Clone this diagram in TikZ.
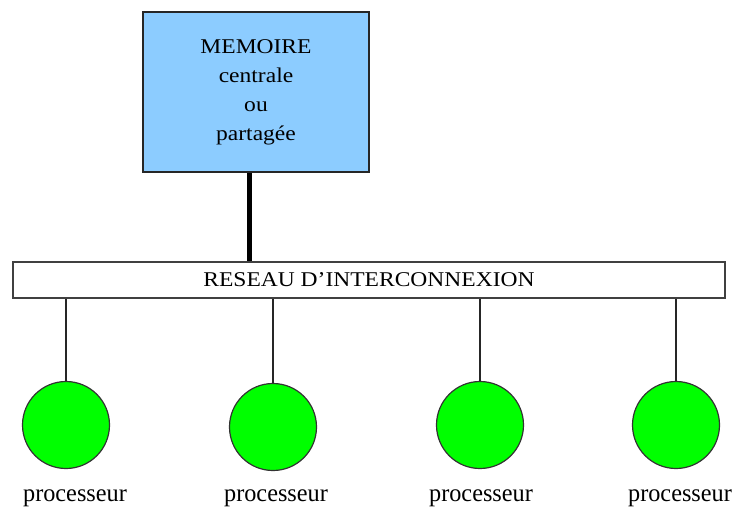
\documentclass[tikz,border=0pt]{standalone}
\usepackage{fontspec}
\setmainfont{Liberation Serif}
\newfontfamily\boxfont[FakeStretch=1.12]{Liberation Serif}
\newfontfamily\procfont[FakeStretch=0.97]{Liberation Serif}
\definecolor{memblue}{RGB}{140,204,255}
\definecolor{procgreen}{RGB}{0,255,0}
\tikzset{
  membox/.style={draw=black!85, line width=1.6pt, fill=memblue,
    minimum width=226pt, minimum height=160pt, inner sep=0pt, align=center,
    font=\boxfont\fontsize{21}{29}\selectfont},
  netbar/.style={draw=black!75, line width=1.6pt, fill=white,
    minimum width=712pt, minimum height=36pt, inner sep=0pt,
    font=\boxfont\fontsize{21}{25}\selectfont},
  proc/.style={circle, draw=black!80, line width=1.2pt, fill=procgreen,
    minimum size=87pt, inner sep=0pt},
  plabel/.style={anchor=base, inner sep=0pt,
    font=\procfont\fontsize{25}{30}\selectfont},
  bus/.style={line width=5pt},
  wire/.style={line width=1.6pt, draw=black!85}
}
\begin{document}
\begin{tikzpicture}[x=1pt, y=-1pt]
      \useasboundingbox (0,0) rectangle (735,506);
      \node[membox] (mem) at (256,92) {MEMOIRE\\centrale\\ou\\partagée};
      \node[netbar] (bar) at (369,280) {RESEAU D’INTERCONNEXION};
      \node[proc] (p1) at (66,425) {};
      \node[proc] (p2) at (273,427) {};
      \node[proc] (p3) at (480,425) {};
      \node[proc] (p4) at (676,425) {};
      \node[plabel] (l1) at (75,501) {processeur};
      \node[plabel] (l2) at (276,501) {processeur};
      \node[plabel] (l3) at (481,501) {processeur};
      \node[plabel] (l4) at (680,501) {processeur};
      \coordinate (memfoot) at ([xshift=-7pt]mem.south);
      \begin{scope}[-]
        \draw[bus] (memfoot) to (memfoot |- bar.north);
        \draw[wire] (p1 |- bar.south) to (p1.north);
        \draw[wire] (p2 |- bar.south) to (p2.north);
        \draw[wire] (p3 |- bar.south) to (p3.north);
        \draw[wire] (p4 |- bar.south) to (p4.north);
      \end{scope}
    \end{tikzpicture}
\end{document}
